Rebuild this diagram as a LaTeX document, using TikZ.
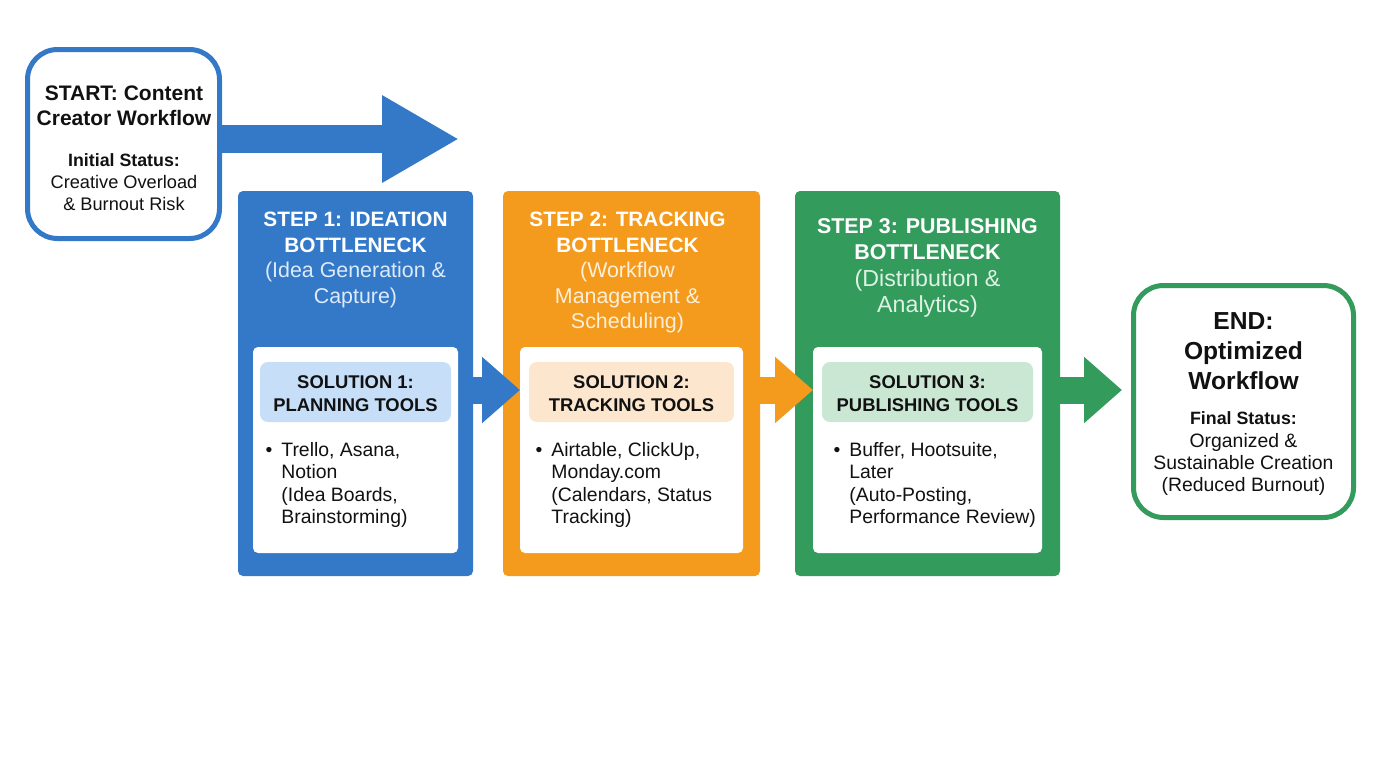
\documentclass[tikz,border=0pt]{standalone}
\usepackage{fontspec}
\setmainfont{Liberation Sans}
\usetikzlibrary{positioning, arrows.meta}

\definecolor{flowblue}{HTML}{3479C7}
\definecolor{floworange}{HTML}{F49A1C}
\definecolor{flowgreen}{HTML}{339B5C}
\definecolor{soltintb}{HTML}{C6DEF7}
\definecolor{soltinto}{HTML}{FCE6CD}
\definecolor{soltintg}{HTML}{C9E7D3}
\definecolor{subb}{HTML}{DCEAFA}
\definecolor{subo}{HTML}{FDEFD9}
\definecolor{subg}{HTML}{DDF2E4}
\definecolor{ink}{HTML}{111111}

\newcommand{\headtxt}{\fontsize{10.5}{11}\selectfont\bfseries}
\newcommand{\stattxt}{\fontsize{8.9}{11}\selectfont\bfseries}
\newcommand{\starttxt}{\fontsize{9.1}{11}\selectfont\mdseries}
\newcommand{\bodytxt}{\fontsize{9.7}{11}\selectfont\mdseries}
\newcommand{\bigtxt}{\fontsize{12.3}{11}\selectfont\bfseries}
\newcommand{\steptxt}{\fontsize{10.4}{12.75}\selectfont\bfseries}
\newcommand{\subtxt}{\fontsize{10.7}{12.75}\selectfont\mdseries}
\newcommand{\pubtxt}{\fontsize{10.7}{13.25}\selectfont\bfseries}
\newcommand{\pubsubtxt}{\fontsize{11.6}{13.25}\selectfont\mdseries}
\newcommand{\soltxt}{\fontsize{9.2}{11.5}\selectfont\bfseries}
\newcommand{\listtxt}{\fontsize{9.7}{11.25}\selectfont}
\newcommand{\itemdot}{\llap{\textbullet\hspace{4.5pt}}}
\newcommand{\soltop}{\rule{0pt}{8pt}}

\tikzset{
	box/.style={inner sep=0, outer sep=0, rounded corners=2.5pt},
	endbox/.style={box, draw=#1, line width=2.5pt, fill=white, rounded corners=15pt},
	stepbox/.style={box, fill=#1, minimum height=192.5pt},
	panel/.style={box, fill=white, minimum height=103pt},
	solbox/.style={box, fill=#1, minimum height=30pt, rounded corners=4pt, text=ink, align=center, font=\soltxt},
	title/.style={inner sep=0, align=center, text=#1},
	tools/.style={inner sep=0, align=left, text=ink, font=\listtxt},
	flow/.style={draw=#1, line width=13.5pt, -{Triangle[length=19pt, width=32pt, fill=#1]}},
}

\begin{document}
\begin{tikzpicture}[x=0.5pt, y=-0.5pt]
	\useasboundingbox (0,0) rectangle (1376,768);

	%Pontas:
	\node[endbox=flowblue, minimum width=96pt, minimum height=94.5pt]	(start) at (123.5,144)	{};
	\node[endbox=flowgreen, minimum width=110pt, minimum height=116pt]	(end) at (1243.5,401.5)	{};

	%Etapas:
	\node[stepbox=flowblue, minimum width=117.5pt]					(step1) at (355.5,383.5)	{};
	\node[stepbox=floworange, minimum width=128.5pt, right=15pt of step1]		(step2)		{};
	\node[stepbox=flowgreen, minimum width=132.5pt, right=17.5pt of step2]	(step3)		{};

	\node[panel, minimum width=102.5pt, below=78pt of step1.north]	(panel1)	{};
	\node[panel, minimum width=111.5pt, below=78pt of step2.north]	(panel2)	{};
	\node[panel, minimum width=114.5pt, below=78pt of step3.north]	(panel3)	{};

	\node[solbox=soltintb, minimum width=95.5pt, below=7.5pt of panel1.north]	(sol1)	{\soltop SOLUTION 1:\\PLANNING TOOLS};
	\node[solbox=soltinto, minimum width=102.5pt, below=7.5pt of panel2.north]	(sol2)	{\soltop SOLUTION 2:\\TRACKING TOOLS};
	\node[solbox=soltintg, minimum width=105.5pt, below=7.5pt of panel3.north]	(sol3)	{\soltop SOLUTION 3:\\PUBLISHING TOOLS};

	%Textos:
	\node[title=ink, font=\headtxt]	(starttext) at (124,148.5)	{\headtxt START: Content\\[1.5pt]\headtxt Creator Workflow\\[9.5pt]\stattxt Initial Status:\\\starttxt Creative Overload\\\starttxt \& Burnout Risk};
	\node[title=ink, font=\bodytxt]	(endtext) at (1243.5,404)	{\bigtxt END:\\[4pt]\bigtxt Optimized\\[2.5pt]\bigtxt Workflow\\[6.5pt]\stattxt Final Status:\\[0.5pt]\bodytxt Organized \&\\\bodytxt Sustainable Creation\\\bodytxt (Reduced Burnout)};

	\node[title=white, font=\steptxt, below=10.5pt of step1.north]	(title1)	{\steptxt STEP 1: IDEATION\\\steptxt BOTTLENECK\\\subtxt\color{subb} (Idea Generation \&\\\subtxt\color{subb} Capture)};
	\node[title=white, font=\steptxt, below=10.5pt of step2.north, xshift=-2pt]	(title2)	{\steptxt STEP 2: TRACKING\\\steptxt BOTTLENECK\\\subtxt\color{subo} (Workflow\\\subtxt\color{subo} Management \&\\\subtxt\color{subo} Scheduling)};
	\node[title=white, font=\pubtxt, below=13.5pt of step3.north]	(title3)	{\pubtxt STEP 3: PUBLISHING\\\pubtxt BOTTLENECK\\\pubsubtxt\color{subg} (Distribution \&\\\pubsubtxt\color{subg} Analytics)};

	\node[tools, below right=10pt and 10.5pt of sol1.south west]	(list1)	{\itemdot Trello, Asana,\\Notion\\(Idea Boards,\\Brainstorming)};
	\node[tools, below right=10pt and 11pt of sol2.south west]	(list2)	{\itemdot Airtable, ClickUp,\\Monday.com\\(Calendars, Status\\Tracking)};
	\node[tools, below right=10pt and 13.5pt of sol3.south west]	(list3)	{\itemdot Buffer, Hootsuite,\\Later\\(Auto-Posting,\\Performance Review)};

	%Setas:
	\coordinate (toptip) at (459,139);
	\coordinate (lane) at (0,390);
	\draw[flow=flowblue, line width=14pt, -{Triangle[length=38.5pt, width=41pt, fill=flowblue]}] (start.east |- toptip) -- (toptip);
	\draw[flow=flowblue]	(step1.east |- lane) -- (panel2.west |- lane);
	\draw[flow=floworange]	(step2.east |- lane) -- (panel3.west |- lane);
	\draw[flow=flowgreen, shorten >=5.75pt]	(step3.east |- lane) -- (end.west |- lane);
\end{tikzpicture}
\end{document}
